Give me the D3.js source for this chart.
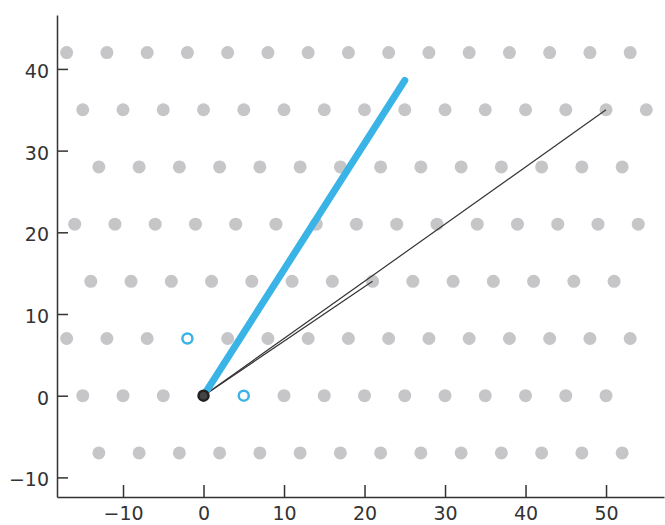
<!DOCTYPE html>
<html>
<head>
<meta charset="utf-8">
<script src="https://cdn.jsdelivr.net/npm/d3@7"></script>
<style>
  body { margin: 0; background: #fff; }
  svg text { font-family: "DejaVu Sans", sans-serif; fill: #333; }
</style>
</head>
<body>
<svg id="chart" width="665" height="525"></svg>
<script>
// lattice rows: y value and x positions of the gray points
const rowY = [-7, 0, 7, 14, 21, 28, 35, 42];
const rowX = [
  [-13, -8, -3, 2, 7, 12, 17, 22, 27, 32, 37, 42, 47, 52],
  [-15, -10, -5, 10, 15, 20, 25, 30, 35, 40, 45, 50],
  [-17, -12, -7, 3, 8, 13, 18, 23, 28, 33, 38, 43, 48, 53],
  [-14, -9, -4, 1, 6, 11, 16, 21, 26, 31, 36, 41, 46, 51],
  [-16, -11, -6, -1, 4, 9, 14, 19, 24, 29, 34, 39, 44, 49, 54],
  [-13, -8, -3, 2, 7, 12, 17, 22, 27, 32, 37, 42, 47, 52],
  [-15, -10, -5, 0, 5, 10, 15, 20, 25, 30, 35, 40, 45, 50, 55],
  [-17, -12, -7, -2, 3, 8, 13, 18, 23, 28, 33, 38, 43, 48, 53]
];

const origin = [0, 0];
const basisPts = [[5, 0], [-2, 7]];     // blue open circles
const blueVec = [25, 38.6];              // thick blue line
const blackVecs = [[50, 35], [21, 14]];  // thin dark lines

const xTicks = [-10, 0, 10, 20, 30, 40, 50];
const yTicks = [-10, 0, 10, 20, 30, 40];

const svg = d3.select("#chart");
const x = d3.scaleLinear().domain([-18.2, 57.2]).range([57, 664]);
const y = d3.scaleLinear().domain([-12.4, 46.6]).range([497, 15]);

// gray lattice dots
const dots = [];
rowY.forEach((yy, i) => rowX[i].forEach(xx => dots.push([xx, yy])));
svg.append("g").selectAll("circle")
  .data(dots).enter().append("circle")
  .attr("cx", d => x(d[0]))
  .attr("cy", d => y(d[1]))
  .attr("r", 6.5)
  .attr("fill", "#c6c6c8");

// thin lines
svg.append("g").selectAll("line")
  .data(blackVecs).enter().append("line")
  .attr("x1", x(origin[0])).attr("y1", y(origin[1]))
  .attr("x2", d => x(d[0])).attr("y2", d => y(d[1]))
  .attr("stroke", "#333").attr("stroke-width", 1.2);

// thick blue line
svg.append("line")
  .attr("x1", x(origin[0])).attr("y1", y(origin[1]))
  .attr("x2", x(blueVec[0])).attr("y2", y(blueVec[1]))
  .attr("stroke", "#3ab4e6").attr("stroke-width", 7)
  .attr("stroke-linecap", "round");

// basis points
svg.append("g").selectAll("circle")
  .data(basisPts).enter().append("circle")
  .attr("cx", d => x(d[0])).attr("cy", d => y(d[1]))
  .attr("r", 5)
  .attr("fill", "#fff").attr("stroke", "#3ab4e6").attr("stroke-width", 2.5);

// origin
svg.append("circle")
  .attr("cx", x(origin[0])).attr("cy", y(origin[1]))
  .attr("r", 5)
  .attr("fill", "#444").attr("stroke", "#222").attr("stroke-width", 2.5);

// axes
const fmt = d => d < 0 ? "\u2212" + Math.abs(d) : String(d);
const xAxis = svg.append("g").attr("transform", "translate(0,497)")
  .call(d3.axisTop(x).tickValues(xTicks).tickSize(12).tickSizeOuter(0).tickFormat(fmt));
xAxis.selectAll("text").attr("y", 23).attr("dy", "0").attr("font-size", 19);

const yAxis = svg.append("g").attr("transform", "translate(57,0)")
  .call(d3.axisRight(y).tickValues(yTicks).tickSize(11).tickSizeOuter(0).tickFormat(fmt));
yAxis.selectAll("text").attr("x", -8).attr("dy", "0.45em")
  .attr("text-anchor", "end").attr("font-size", 19);

svg.selectAll(".domain, .tick line").attr("stroke", "#333").attr("stroke-width", 1.5);
svg.selectAll(".tick text").attr("fill", "#333");
</script>
</body>
</html>
